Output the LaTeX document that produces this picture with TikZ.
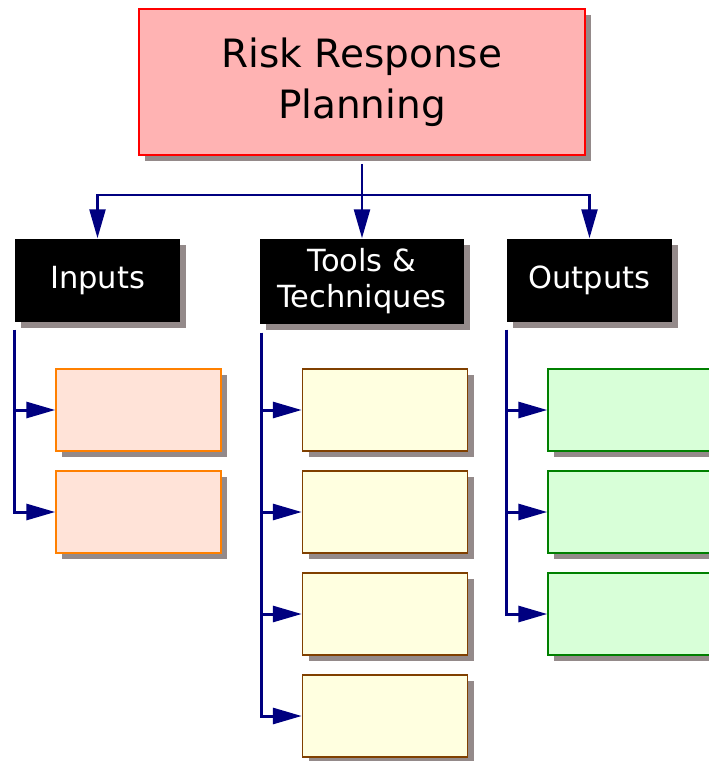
\documentclass[tikz,border=0pt]{standalone}
\usepackage{fontspec}
\setmainfont{DejaVu Sans}
\usetikzlibrary{arrows.meta, shadows}

\definecolor{shadowgray}{RGB}{148,138,138}
\definecolor{linkblue}{RGB}{0,0,128}
\definecolor{topfill}{RGB}{255,179,179}
\definecolor{infill}{RGB}{255,227,216}
\definecolor{inborder}{RGB}{255,128,0}
\definecolor{toolfill}{RGB}{255,255,224}
\definecolor{toolborder}{RGB}{128,64,0}
\definecolor{outfill}{RGB}{216,255,216}
\definecolor{outborder}{RGB}{0,128,0}

\begin{document}
\begin{tikzpicture}[
  x=1pt, y=-1pt,
  >={Triangle[length=29pt, width=16pt]},
  sh/.style={drop shadow={shadow xshift=6pt, shadow yshift=-6pt, fill=shadowgray, opacity=1}},
  box/.style={rectangle, sh, line width=1.5pt, minimum width=165pt, minimum height=82pt, inner sep=0pt},
  title/.style={box, draw=red, fill=topfill, minimum width=446pt, minimum height=146pt,
    align=center, font=\fontsize{39}{51}\selectfont},
  head/.style={box, fill=black, text=white, align=center, minimum height=83pt,
    font=\fontsize{30.5}{36}\selectfont},
  inbox/.style={box, draw=inborder, fill=infill},
  toolbox/.style={box, draw=toolborder, fill=toolfill},
  outbox/.style={box, draw=outborder, fill=outfill},
  link/.style={->, draw=linkblue, line width=3pt}
]
\useasboundingbox (0,0) rectangle (709,761);
\clip (0,0) rectangle (709,761);

\node[title] (top) at (362,82) {Risk Response\\Planning};
\node[head] (inputs) at (97.5,280.5) {Inputs};
\node[head, minimum width=204pt, minimum height=85pt] (tools) at (362,281.5) {Tools \&\\Techniques};
\node[head] (outputs) at (589.5,280.5) {Outputs};

\coordinate (bus) at (362,195);
\draw[link, line width=2.5pt, shorten <=8pt] (top) -- (tools);
\draw[link, line width=2.5pt] (bus) -| (inputs);
\draw[link, line width=2.5pt] (bus) -| (outputs);

% process boxes
\foreach \i/\y in {1/410, 2/512} {
  \node[inbox] (in\i) at (138.5,\y) {};
  \draw[link, shorten <=7pt] (inputs.south west) |- (in\i);
}
\foreach \i/\y in {1/410, 2/512, 3/614, 4/716} {
  \node[toolbox] (tool\i) at (385,\y) {};
  \draw[link, shorten <=8pt] ([xshift=2pt]tools.south west) |- (tool\i);
}
\foreach \i/\y in {1/410, 2/512, 3/614} {
  \node[outbox] (out\i) at (630.5,\y) {};
  \draw[link, shorten <=7pt] (outputs.south west) |- (out\i);
}
\end{tikzpicture}
\end{document}
